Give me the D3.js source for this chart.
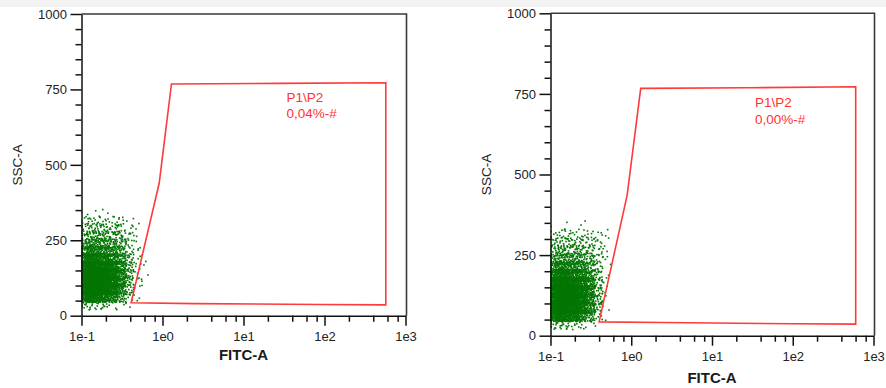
<!DOCTYPE html>
<html><head><meta charset="utf-8">
<script src="https://cdn.jsdelivr.net/npm/d3@7"></script>
<style>html,body{margin:0;padding:0;background:#fff;} svg{display:block;}</style>
</head><body><svg id="c" width="886" height="388"></svg>
<script>
// ---------- data ----------
const xTickValues = [0.1, 1, 10, 100, 1000];
const xTickLabels = ["1e-1", "1e0", "1e1", "1e2", "1e3"];
const xMinorMultipliers = [2, 4, 6, 8];
const yTickValues = [0, 250, 500, 750, 1000];
const yTickLabels = ["0", "250", "500", "750", "1000"];
const yMinorStep = 50;
const xAxisTitle = "FITC-A";
const yAxisTitle = "SSC-A";
const gateName = "P1\\P2";
const gateLabelLeft = "0,04%-#";
const gateLabelRight = "0,00%-#";
const gateLabelPosX = 34;    // FITC-A data units
const gateLabelPosY = 709;   // SSC-A data units (baseline of first line)

// gate polygon vertices (FITC-A, SSC-A)
const gateLeftX  = [0.41, 0.91, 1.29, 27, 571, 571, 94, 2.46];
const gateLeftY  = [43, 439, 768, 770, 772, 36, 37, 40];
const gateRightX = [0.40, 0.89, 1.31, 28, 602, 602, 98, 2.47];
const gateRightY = [43, 436, 767, 769, 772, 36, 37, 41];

// event density: rows = SSC-A bins (lower edge, width 25), cols = log10(FITC-A) bins (lower edge, width 0.1)
const densitySscBins = [325, 300, 275, 250, 225, 200, 175, 150, 125, 100, 75, 50, 25];
const densityLogFitcBins = [-1.0, -0.9, -0.8, -0.7, -0.6, -0.5, -0.4, -0.3];
const densityLeft = [
  [2, 2, 2, 1, 1, 0, 0, 0],
  [8, 8, 8, 7, 6, 4, 1, 0],
  [14, 14, 13, 12, 10, 6, 2, 0],
  [22, 22, 20, 18, 14, 9, 3, 0],
  [36, 34, 30, 26, 19, 11, 3, 0],
  [60, 55, 48, 40, 27, 14, 4, 0],
  [95, 88, 76, 60, 40, 20, 5, 1],
  [135, 125, 110, 86, 55, 25, 6, 1],
  [165, 155, 135, 105, 66, 28, 6, 1],
  [175, 165, 140, 108, 66, 26, 5, 0],
  [170, 158, 132, 100, 58, 20, 4, 0],
  [115, 105, 88, 66, 38, 13, 3, 0],
  [14, 12, 10, 7, 4, 2, 0, 0]
];
const densityRight = [
  [1, 1, 1, 1, 1, 1, 0, 0],
  [8, 8, 7, 7, 7, 6, 3, 0],
  [13, 13, 12, 11, 10, 8, 3, 0],
  [20, 20, 18, 17, 15, 11, 3, 0],
  [33, 33, 30, 27, 22, 14, 3, 0],
  [56, 54, 48, 42, 32, 16, 3, 0],
  [92, 85, 75, 62, 44, 20, 3, 0],
  [132, 122, 108, 86, 58, 24, 3, 0],
  [165, 155, 135, 105, 68, 28, 3, 0],
  [175, 165, 142, 110, 68, 26, 3, 0],
  [172, 160, 135, 104, 62, 22, 2, 0],
  [122, 115, 95, 72, 42, 15, 1, 0],
  [18, 16, 12, 8, 5, 2, 0, 0]
];
const outliersLeftX = [0.66, 0.59];
const outliersLeftY = [135, 168];
const outliersRightX = [];
const outliersRightY = [];

// ---------- drawing ----------
const svg = d3.select("#c");
svg.append("rect").attr("x", 0).attr("y", 0).attr("width", 886).attr("height", 7).attr("fill", "#f3f3f3");

const FONT = "'Liberation Sans', Arial, sans-serif";
const panels = [
  {x0: 81.5, x1: 405.5, yTop: 14, yBot: 315.7, yTitleX: 17, xTitleY: 360,
   density: densityLeft, gx: gateLeftX, gy: gateLeftY, label: gateLabelLeft,
   ox: outliersLeftX, oy: outliersLeftY, id: "L"},
  {x0: 550.5, x1: 873.5, yTop: 13.3, yBot: 335.7, yTitleX: 486, xTitleY: 382.7,
   density: densityRight, gx: gateRightX, gy: gateRightY, label: gateLabelRight,
   ox: outliersRightX, oy: outliersRightY, id: "R"}
];

function halton(i, b) {
  let f = 1, r = 0;
  while (i > 0) { f /= b; r += f * (i % b); i = Math.floor(i / b); }
  return r;
}

panels.forEach((p, pi) => {
  const x = d3.scaleLog().domain([0.1, 1000]).range([p.x0, p.x1]);
  const y = d3.scaleLinear().domain([0, 1000]).range([p.yBot, p.yTop]);
  const g = svg.append("g");

  g.append("clipPath").attr("id", "clip" + p.id).append("rect")
    .attr("x", p.x0).attr("y", p.yTop).attr("width", p.x1 - p.x0).attr("height", p.yBot - p.yTop);

  // events (placed inside their density bins with a deterministic low-discrepancy layout)
  const pts = [];
  let idx = 1 + pi * 20000;
  p.density.forEach((row, ri) => {
    row.forEach((n, ci) => {
      const lx0 = densityLogFitcBins[ci], sy0 = densitySscBins[ri];
      for (let k = 0; k < n; k++) {
        idx++;
        let lx = lx0 - 0.05 + 0.2 * halton(idx, 2);
        let sy = sy0 - 6 + 37 * halton(idx, 3);
        if (lx < -1) lx = -1 + 0.01 * halton(idx, 5);
        pts.push([Math.pow(10, lx), sy]);
      }
    });
  });
  p.ox.forEach((v, i) => pts.push([v, p.oy[i]]));
  g.append("g").attr("clip-path", "url(#clip" + p.id + ")")
    .selectAll("rect").data(pts).join("rect")
    .attr("x", d => x(d[0]) - 0.8).attr("y", d => y(d[1]) - 0.8)
    .attr("width", 1.6).attr("height", 1.6).attr("fill", "#047604");

  // gate
  const gate = p.gx.map((v, i) => [x(v), y(p.gy[i])]);
  g.append("path").attr("d", d3.line()(gate) + "Z")
    .attr("fill", "none").attr("stroke", "#ff3a3a").attr("stroke-width", 1.6);
  g.append("text").attr("x", x(gateLabelPosX)).attr("y", y(gateLabelPosY))
    .attr("font-family", FONT).attr("font-size", 13.5).attr("fill", "#ff3333").text(gateName);
  g.append("text").attr("x", x(gateLabelPosX)).attr("y", y(gateLabelPosY) + 16.6)
    .attr("font-family", FONT).attr("font-size", 13.5).attr("fill", "#ff3333").text(p.label);

  // frame top & right
  g.append("path").attr("d", `M${p.x0},${p.yTop}H${p.x1 + 1}V${p.yBot}`)
    .attr("fill", "none").attr("stroke", "#3a3a3a").attr("stroke-width", 1.6);

  // x axis
  const xMinor = [];
  xTickValues.slice(0, -1).forEach(d => xMinorMultipliers.forEach(m => xMinor.push(d * m)));
  const xa = g.append("g").attr("transform", `translate(0,${p.yBot})`)
    .call(d3.axisBottom(x).tickValues(xTickValues).tickFormat((d, i) => xTickLabels[i])
      .tickSize(10).tickSizeOuter(0).tickPadding(6));
  const xm = g.append("g").attr("transform", `translate(0,${p.yBot})`)
    .call(d3.axisBottom(x).tickValues(xMinor).tickFormat("").tickSize(6).tickSizeOuter(0));
  xm.select(".domain").remove();

  // y axis
  const yMinor = d3.range(0, 1001, yMinorStep).filter(v => !yTickValues.includes(v));
  const ya = g.append("g").attr("transform", `translate(${p.x0},0)`)
    .call(d3.axisLeft(y).tickValues(yTickValues).tickFormat((d, i) => yTickLabels[i])
      .tickSize(11).tickSizeOuter(0).tickPadding(3.5));
  const ym = g.append("g").attr("transform", `translate(${p.x0},0)`)
    .call(d3.axisLeft(y).tickValues(yMinor).tickFormat("").tickSize(6).tickSizeOuter(0));
  ym.select(".domain").remove();

  [xa, xm, ya, ym].forEach(a => {
    a.selectAll("path,line").attr("stroke", "#111").attr("stroke-width", 1.5);
    a.selectAll("text").attr("font-family", FONT).attr("font-size", 13).attr("fill", "#222");
  });

  // titles
  g.append("text").attr("x", (p.x0 + p.x1) / 2).attr("y", p.xTitleY)
    .attr("text-anchor", "middle").attr("font-family", FONT).attr("font-size", 15)
    .attr("font-weight", "bold").attr("fill", "#1a1a1a").text(xAxisTitle);
  g.append("text").attr("transform", `translate(${p.yTitleX + 5},${(p.yTop + p.yBot) / 2}) rotate(-90)`)
    .attr("text-anchor", "middle").attr("font-family", FONT).attr("font-size", 13.5)
    .attr("fill", "#222").text(yAxisTitle);
});
</script></body></html>
